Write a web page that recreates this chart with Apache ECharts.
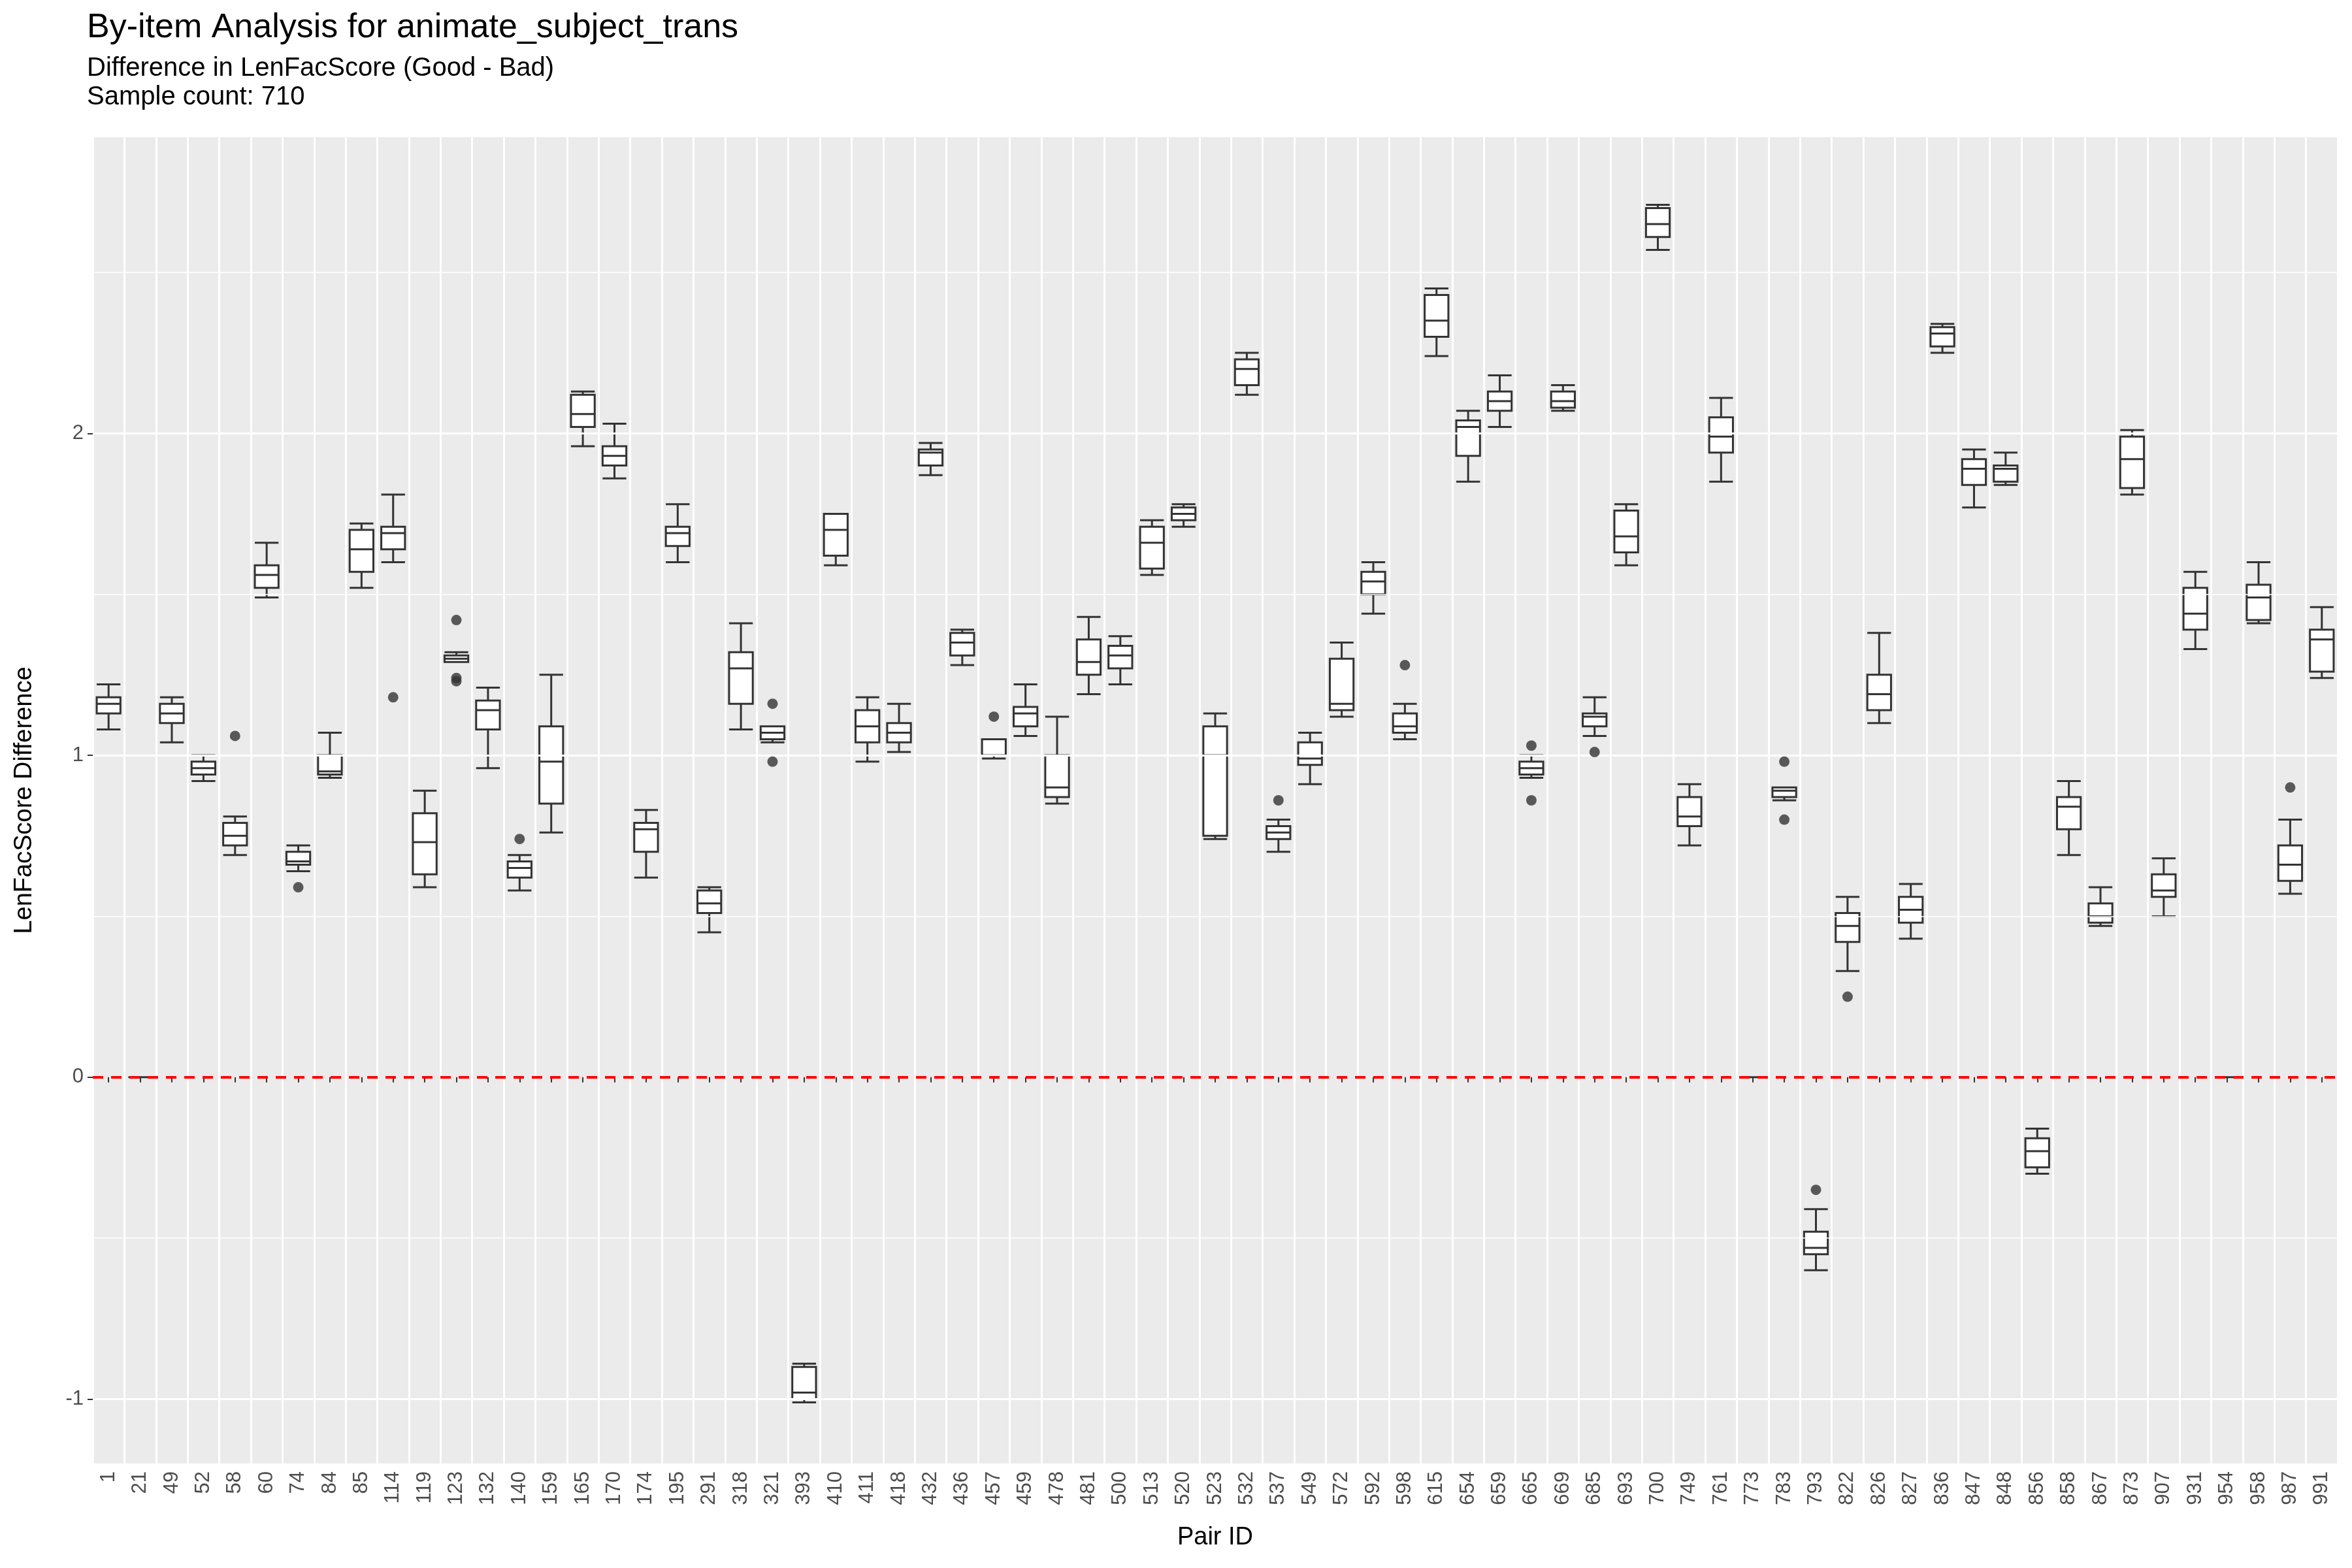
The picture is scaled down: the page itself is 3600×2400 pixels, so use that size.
<!DOCTYPE html>
<html>
<head>
<meta charset="utf-8">
<script src="https://cdn.jsdelivr.net/npm/echarts@6/dist/echarts.min.js"></script>
<style>
  html, body { margin: 0; padding: 0; background: #fff; }
  #chart { width: 3600px; height: 2400px; }
</style>
</head>
<body>
<div id="chart"></div>
<script>
const pairIds = ['1','21','49','52','58','60','74','84','85','114','119','123','132','140','159','165','170','174','195','291',
  '318','321','393','410','411','418','432','436','457','459','478','481','500','513','520','523','532','537','549','572',
  '592','598','615','654','659','665','669','685','693','700','749','761','773','783','793','822','826','827','836','847',
  '848','856','858','867','873','907','931','954','958','987','991']

// [min, q1, median, q3, max]
const boxStats = [
  [1.08,1.13,1.16,1.18,1.22],[0,0,0,0,0],[1.04,1.10,1.13,1.16,1.18],[0.92,0.94,0.96,0.98,1.00],[0.69,0.72,0.75,0.79,0.81],
  [1.49,1.52,1.56,1.59,1.66],[0.64,0.66,0.67,0.70,0.72],[0.93,0.94,0.95,1.00,1.07],[1.52,1.57,1.64,1.70,1.72],[1.60,1.64,1.69,1.71,1.81],
  [0.59,0.63,0.73,0.82,0.89],[1.29,1.29,1.30,1.31,1.32],[0.96,1.08,1.14,1.17,1.21],[0.58,0.62,0.65,0.67,0.69],[0.76,0.85,0.98,1.09,1.25],
  [1.96,2.02,2.06,2.12,2.13],[1.86,1.90,1.93,1.96,2.03],[0.62,0.70,0.77,0.79,0.83],[1.60,1.65,1.69,1.71,1.78],[0.45,0.51,0.54,0.58,0.59],
  [1.08,1.16,1.27,1.32,1.41],[1.04,1.05,1.07,1.09,1.09],[-1.01,-1.00,-0.98,-0.90,-0.89],[1.59,1.62,1.70,1.75,1.75],[0.98,1.04,1.09,1.14,1.18],
  [1.01,1.04,1.07,1.10,1.16],[1.87,1.90,1.94,1.95,1.97],[1.28,1.31,1.35,1.38,1.39],[0.99,1.00,1.00,1.05,1.05],[1.06,1.09,1.13,1.15,1.22],
  [0.85,0.87,0.90,1.00,1.12],[1.19,1.25,1.29,1.36,1.43],[1.22,1.27,1.31,1.34,1.37],[1.56,1.58,1.66,1.71,1.73],[1.71,1.73,1.75,1.77,1.78],
  [0.74,0.75,1.00,1.09,1.13],[2.12,2.15,2.20,2.23,2.25],[0.70,0.74,0.76,0.78,0.80],[0.91,0.97,0.99,1.04,1.07],[1.12,1.14,1.16,1.30,1.35],
  [1.44,1.50,1.54,1.57,1.60],[1.05,1.07,1.09,1.13,1.16],[2.24,2.30,2.35,2.43,2.45],[1.85,1.93,2.02,2.04,2.07],[2.02,2.07,2.10,2.13,2.18],
  [0.93,0.94,0.96,0.98,1.00],[2.07,2.08,2.10,2.13,2.15],[1.06,1.09,1.12,1.13,1.18],[1.59,1.63,1.68,1.76,1.78],[2.57,2.61,2.65,2.70,2.71],
  [0.72,0.78,0.81,0.87,0.91],[1.85,1.94,1.99,2.05,2.11],[0,0,0,0,0],[0.86,0.87,0.89,0.90,0.90],[-0.60,-0.55,-0.53,-0.48,-0.41],
  [0.33,0.42,0.47,0.51,0.56],[1.10,1.14,1.19,1.25,1.38],[0.43,0.48,0.52,0.56,0.60],[2.25,2.27,2.31,2.33,2.34],[1.77,1.84,1.89,1.92,1.95],
  [1.84,1.85,1.89,1.90,1.94],[-0.30,-0.28,-0.23,-0.19,-0.16],[0.69,0.77,0.84,0.87,0.92],[0.47,0.48,0.50,0.54,0.59],[1.81,1.83,1.92,1.99,2.01],
  [0.50,0.56,0.58,0.63,0.68],[1.33,1.39,1.44,1.52,1.57],[0,0,0,0,0],[1.41,1.42,1.49,1.53,1.60],[0.57,0.61,0.66,0.72,0.80],[1.24,1.26,1.36,1.39,1.46]
]

// [pair id, value]
const outliers = [
  ['58',1.06],['74',0.59],['114',1.18],['123',1.42],['123',1.24],['123',1.23],['140',0.74],['321',1.16],['321',0.98],
  ['457',1.12],['537',0.86],['598',1.28],['665',1.03],['665',0.86],['685',1.01],['783',0.98],['783',0.80],['793',-0.35],
  ['822',0.25],['987',0.90]
]

const majorTicks = [-1, 0, 1, 2]
const minorTicks = [-0.5, 0.5, 1.5, 2.5]

const chart = echarts.init(document.getElementById('chart'))
const font = 'Liberation Sans, Arial, sans-serif'

// white panel grid lines (the 0 line is covered by the red dashed reference line)
const gridLines = majorTicks.filter(v => v !== 0).map(v => ({ yAxis: v, lineStyle: { color: '#fff', width: 3, type: 'solid' } }))
  .concat(minorTicks.map(v => ({ yAxis: v, lineStyle: { color: '#fff', width: 1.5, type: 'solid' } })))

chart.setOption({
  backgroundColor: '#fff',
  textStyle: { fontFamily: font },
  title: {
    text: 'By-item Analysis for animate_subject_trans',
    subtext: 'Difference in LenFacScore (Good - Bad)\nSample count: 710',
    left: 128, top: 12,
    itemGap: 14,
    textStyle: { fontSize: 52, fontWeight: 'normal', color: '#000', fontFamily: font },
    subtextStyle: { fontSize: 40, color: '#000', lineHeight: 44, fontFamily: font }
  },
  grid: {
    left: 142, right: 22, top: 210, bottom: 160,
    show: true, backgroundColor: '#EBEBEB', borderWidth: 0
  },
  xAxis: {
    type: 'category',
    data: pairIds,
    name: 'Pair ID',
    nameLocation: 'middle',
    nameGap: 95,
    nameTextStyle: { fontSize: 38, color: '#000' },
    axisLine: { show: false },
    axisTick: { show: true, alignWithLabel: true, length: 8, lineStyle: { color: '#333', width: 2 } },
    axisLabel: { rotate: 90, fontSize: 31, color: '#4d4d4d', interval: 0, margin: 12 },
    splitLine: { show: true, interval: 0, lineStyle: { color: '#fff', width: 3 } },
    boundaryGap: true
  },
  yAxis: {
    type: 'value',
    min: -1.2, max: 2.92,
    name: 'LenFacScore Difference',
    nameLocation: 'middle',
    nameGap: 85,
    nameTextStyle: { fontSize: 38, color: '#000' },
    axisLine: { show: false },
    axisTick: { show: true, customValues: majorTicks, length: 8, lineStyle: { color: '#333', width: 2 } },
    axisLabel: { customValues: majorTicks, fontSize: 31, color: '#4d4d4d', margin: 14 },
    splitLine: { show: false }
  },
  series: [
    {
      type: 'boxplot',
      data: boxStats,
      boxWidth: ['75%', '75%'],
      itemStyle: { color: '#fff', borderColor: '#333', borderWidth: 3 },
      markLine: {
        silent: true, symbol: 'none', label: { show: false },
        data: gridLines
      },
      z: 3
    },
    {
      type: 'scatter',
      data: outliers,
      symbolSize: 16,
      itemStyle: { color: '#333' },
      markLine: {
        silent: true, symbol: 'none', label: { show: false },
        data: [{ yAxis: 0 }],
        lineStyle: { color: '#ff0000', width: 4, type: [16, 12] }
      },
      z: 5
    }
  ]
})
</script>
</body>
</html>
